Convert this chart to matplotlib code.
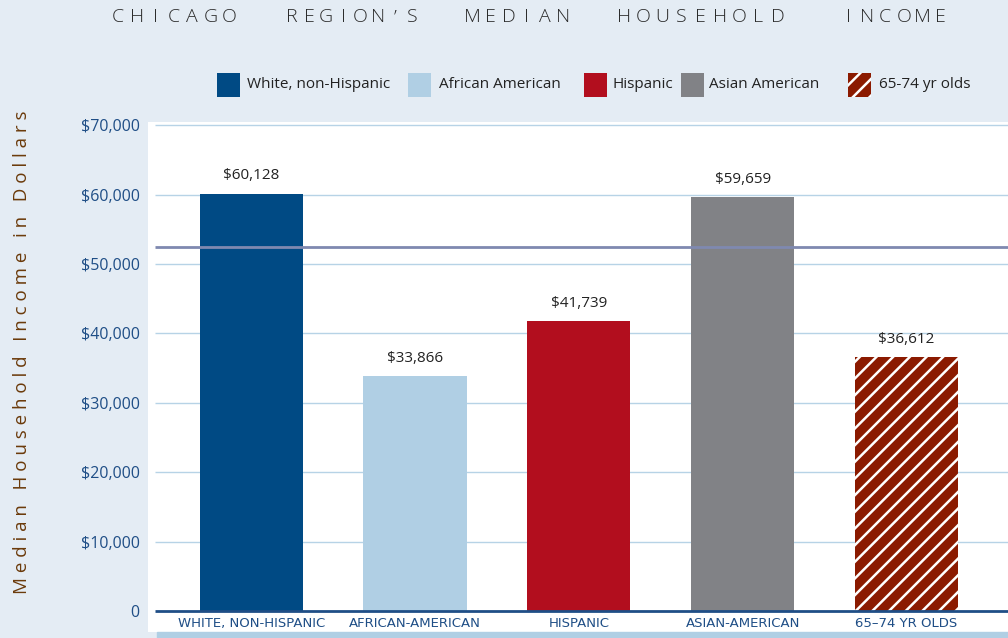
import numpy as np
import matplotlib
matplotlib.use("Agg")
import matplotlib.pyplot as plt
from matplotlib.patches import Rectangle

categories = ["WHITE, NON-HISPANIC", "AFRICAN-AMERICAN", "HISPANIC", "ASIAN-AMERICAN", "65–74 YR OLDS"]
legend_labels = ["White, non-Hispanic", "African American", "Hispanic", "Asian American", "65-74 yr olds"]
incomes = [60128, 33866, 41739, 59659, 36612]
value_labels = ["$60,128", "$33,866", "$41,739", "$59,659", "$36,612"]
region_median = 52500
yticks = [0, 10000, 20000, 30000, 40000, 50000, 60000, 70000]
ytick_labels = ["0", "$10,000", "$20,000", "$30,000", "$40,000", "$50,000", "$60,000", "$70,000"]

colors = ["#004A84", "#B0CFE4", "#B20E1E", "#818286", "#8B1A00"]
hatches = [None, None, None, None, "//"]

bg = "#E4ECF4"
blue_text = "#1F4E86"

plt.rcParams["font.family"] = ["Open Sans", "DejaVu Sans"]
plt.rcParams["hatch.linewidth"] = 1.8

W, H = 1008, 638
fig = plt.figure(figsize=(W / 100, H / 100), dpi=100, facecolor=bg)
ax = fig.add_axes([148 / W, 6 / H, 1 - 148 / W, (632 - 122) / H])
ax.set_facecolor("white")

x = np.arange(len(categories))
bars = ax.bar(x, incomes, width=0.63, color=colors, zorder=3, linewidth=0)
for b, h in zip(bars, hatches):
    if h:
        b.set_hatch(h)
        b.set_edgecolor("white")
        b.set_linewidth(0)

xl, xr = -0.63, 4.62
ax.set_xlim(xl, xr)
ax.set_ylim(-3000, 70450)

# gridlines (start slightly right of the white panel edge)
x0 = xl + 7 / 164
ax.hlines(yticks[1:], x0, xr, color="#B7D3E6", linewidth=1, zorder=1)
ax.hlines(0, x0, xr, color=blue_text, linewidth=2, zorder=4)
ax.hlines(region_median, x0, xr, color="#7F89B0", linewidth=2, zorder=4)

for xi, v, lab in zip(x, incomes, value_labels):
    ax.text(xi, v + 1500, lab, ha="center", va="bottom", fontsize=11, color="#222222")

for xi, lab in zip(x, categories):
    ax.text(xi, -1800, lab, ha="center", va="center", fontsize=9.5, color=blue_text,
            family=["Liberation Sans Narrow", "DejaVu Sans"])

ax.set_yticks(yticks)
ax.set_yticklabels(ytick_labels, fontsize=11.5, color=blue_text)
ax.tick_params(axis="y", length=0, pad=6)
ax.set_xticks([])
for s in ax.spines.values():
    s.set_visible(False)

# bottom light strip
fig.patches.append(Rectangle((157 / W, 0), 1, 6 / H, transform=fig.transFigure,
                             color="#B0CFE4", zorder=0))

# title, letter spaced: each word spread over its span
title_words = ["CHICAGO", "REGION’S", "MEDIAN", "HOUSEHOLD", "INCOME"]
word_spans = [(109, 238), (283, 421), (463, 572), (614, 787), (839, 950)]
for word, (a, b) in zip(title_words, word_spans):
    n = len(word)
    step = (b - a) / n
    for i, ch in enumerate(word):
        fig.text((a + (i + 0.5) * step) / W, 1 - 17 / H, ch, ha="center", va="center",
                 fontsize=14, color="#2A2A2A", fontweight="light",
                 family=["Open Sans", "DejaVu Sans"])

ylab = "Median Household Income in Dollars"
ylab_sp = "   ".join(" ".join(w) for w in ylab.split(" "))
fig.text(22 / W, 1 - 352 / H, ylab_sp, rotation=90, ha="center", va="center",
         fontsize=13.5, color="#6B3A0A")

# legend
sq_x = [217, 408, 584, 681, 848]
txt_x = [247, 439, 612, 709, 879]
ly = 85
for sx, tx, c, h, lab in zip(sq_x, txt_x, colors, hatches, legend_labels):
    r = Rectangle((sx / W, 1 - (ly + 11.5) / H), 23 / W, 23 / H, transform=fig.transFigure,
                  facecolor=c, edgecolor="white" if h else c, linewidth=0, hatch=h)
    fig.patches.append(r)
    fig.text(tx / W, 1 - ly / H, lab, ha="left", va="center", fontsize=11, color="#222222")

fig.savefig("out.png", dpi=100, facecolor=bg)
